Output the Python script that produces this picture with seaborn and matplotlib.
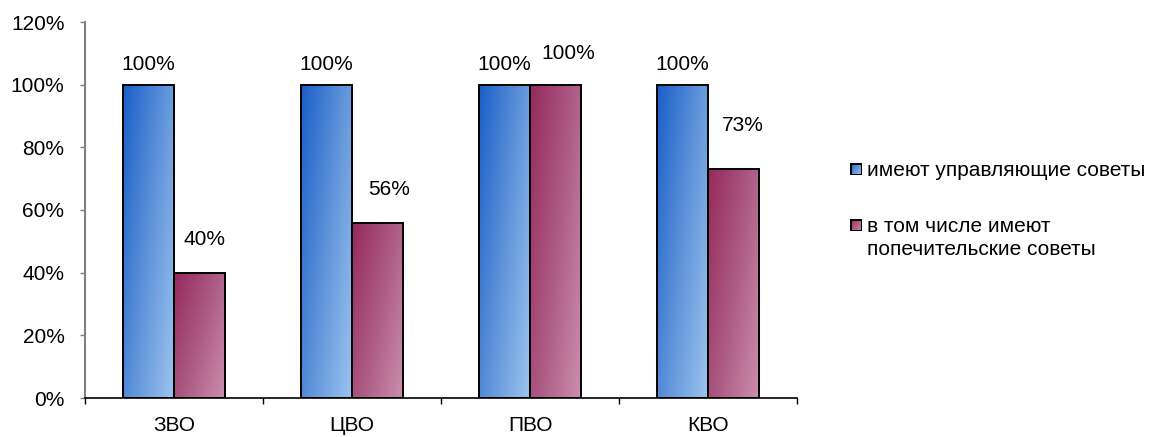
import numpy as np
import pandas as pd
import matplotlib
matplotlib.use("Agg")
import matplotlib.pyplot as plt
from matplotlib.colors import LinearSegmentedColormap
from matplotlib.patches import Rectangle
import seaborn as sns

# data
districts = ["ЗВО", "ЦВО", "ПВО", "КВО"]
series_names = ["имеют управляющие советы", "в том числе имеют\nпопечительские советы"]
managing = [100, 100, 100, 100]
trustees = [40, 56, 100, 73]

df = pd.DataFrame({
    "district": districts * 2,
    "series": [series_names[0]] * 4 + [series_names[1]] * 4,
    "value": managing + trustees,
})

sns.set_style("white")
plt.rcParams["font.family"] = ["Liberation Sans", "DejaVu Sans"]
plt.rcParams["text.color"] = "black"
plt.rcParams["xtick.labelcolor"] = "black"
plt.rcParams["ytick.labelcolor"] = "black"

FS = 15
W, H = 1158, 437
fig = plt.figure(figsize=(W / 100, H / 100), dpi=100)
ax = fig.add_axes([85 / W, 1 - 398 / H, 712 / W, 376 / H])

blue_mid = "#5B8FD8"
red_mid = "#A94A78"
sns.barplot(data=df, x="district", y="value", hue="series", order=districts,
            hue_order=series_names, palette=[blue_mid, red_mid], width=0.578,
            edgecolor="black", linewidth=1.4, legend=False, ax=ax)

cmaps = [LinearSegmentedColormap.from_list("b", ["#1A5FC9", "#5F93DA", "#9CC4EE"]),
         LinearSegmentedColormap.from_list("r", ["#952A5C", "#AC5A83", "#CC8FAD"])]

gx, gy = np.meshgrid(np.linspace(0, 1, 60), np.linspace(0, 1, 60))
grad = 0.6 * gx + 0.4 * gy  # top-left dark -> bottom-right light

# label offsets in pixels (the source chart had hand-placed labels)
lab_dx = [0, 0, 0, 0, 5, 11, 13, 9]
lab_dy = [15, 15, 15, 15, 28, 28, 26, 38]

bars = [p for p in ax.patches if p.get_height() > 0]
for i, p in enumerate(bars):
    cm = cmaps[0] if i < len(districts) else cmaps[1]
    x0, w, h = p.get_x(), p.get_width(), p.get_height()
    im = ax.imshow(grad, cmap=cm, extent=[x0, x0 + w, 0, h], origin="upper",
                   aspect="auto", zorder=p.get_zorder() - 0.1, vmin=0, vmax=1)
    im.set_clip_path(p)
    p.set_facecolor("none")

    ax.annotate(f"{h:.0f}%", (x0 + w / 2, h), xytext=(lab_dx[i], lab_dy[i]),
                textcoords="offset pixels", ha="center", va="baseline", fontsize=FS)

ax.set_xlim(-0.5, 3.5)
ax.set_ylim(0, 120)
ax.set_yticks(range(0, 121, 20))
ax.set_yticklabels([f"{v}%" for v in range(0, 121, 20)], fontsize=FS)
ax.set_xticks(range(len(districts)))
ax.set_xticklabels(districts, fontsize=FS)
ax.set_xticks(np.arange(-0.5, 4, 1), minor=True)
ax.tick_params(axis="x", which="major", length=0, pad=13)
ax.tick_params(axis="x", which="minor", length=4.5, width=1, color="black", direction="out", bottom=True)
ax.tick_params(axis="y", length=3.8, width=1, color="#808080", direction="out", pad=11, left=True)
ax.set_xlabel("")
ax.set_ylabel("")

for s in ["top", "right"]:
    ax.spines[s].set_visible(False)
ax.spines["left"].set_color("#808080")
ax.spines["left"].set_linewidth(1.5)
ax.spines["bottom"].set_color("black")
ax.spines["bottom"].set_linewidth(1.2)

# legend drawn by hand so the marker sits on the first line of a two-line label
leg_y = [169, 225]
for k, (name, cm) in enumerate(zip(series_names, cmaps)):
    y = leg_y[k]
    lax = fig.add_axes([850 / W, 1 - (y + 6) / H, 12 / W, 12 / H])
    lax.imshow(grad, cmap=cm, extent=[0, 1, 0, 1], aspect="auto", vmin=0, vmax=1)
    lax.add_patch(Rectangle((0, 0), 1, 1, fill=False, edgecolor="black",
                            linewidth=2.2, transform=lax.transAxes))
    lax.set_axis_off()
    fig.text(867 / W, 1 - (y - 8) / H, name, fontsize=FS, ha="left", va="top",
             linespacing=1.28)

fig.savefig("out.png", dpi=100)
